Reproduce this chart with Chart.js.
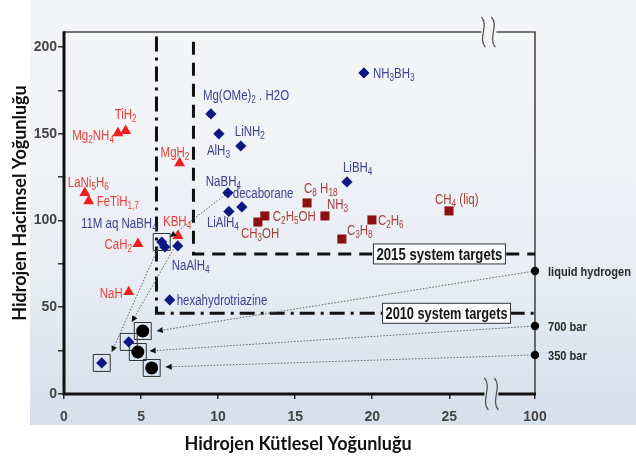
<!DOCTYPE html>
<html><head><meta charset="utf-8">
<script src="https://cdn.jsdelivr.net/npm/chart.js@4.4.1/dist/chart.umd.min.js"></script>
<style>
html,body{margin:0;padding:0;background:#fff;}
#wrap{position:relative;width:636px;height:458px;overflow:hidden;background:#fff;}
#bg{position:absolute;left:30px;top:0;width:606px;height:425px;
 background:linear-gradient(180deg,#f4f5f7 0%,#f1f3f6 35%,#e9eef4 62%,#dde6f0 82%,#d5e0ec 100%);}
#c{position:absolute;left:0;top:0;}
</style></head><body>
<div id="wrap"><div id="bg"></div><canvas id="c" width="636" height="458"></canvas></div>
<script>
// ---------------- data ----------------
const xTickValues = [0, 5, 10, 15, 20, 25, 100];   // broken axis: 25 ... 100
const yMax = 208.6;

// metal hydrides (red triangles)
const hydrideNames = ['Mg{2}NH{4}', 'TiH{2}', 'MgH{2}', 'LaNi{5}H{6}', 'FeTiH{1,7}', 'KBH{4}', 'CaH{2}', 'NaH'];
const hydrideWt    = [3.5, 4.0, 7.5, 1.35, 1.6, 7.4, 4.8, 4.2];
const hydrideVol   = [150.4, 151.6, 133.1, 115.9, 111.2, 91.1, 86.5, 58.8];

// complex / chemical hydrides (blue diamonds)
const complexNames = ['Mg(OMe){2} . H2O', 'AlH{3}', 'LiNH{2}', 'NaBH{4}|decaborane', 'LiAlH{4}', '', '11M aq NaBH{4}', '', 'NaAlH{4}', 'hexahydrotriazine', '', '', 'NH{3}BH{3}', 'LiBH{4}'];
const complexWt    = [9.53, 10.05, 11.47, 10.63, 10.7, 11.54, 6.34, 6.54, 7.38, 6.86, 2.45, 4.2, 19.46, 18.36];
const complexVol   = [161.4, 149.9, 142.9, 115.9, 105.2, 107.8, 87.6, 84.7, 85.3, 54.2, 17.9, 30.0, 185.0, 122.2];

// liquid fuels (dark red squares)
const liquidNames = ['C{8} H{18}', 'CH{3}OH', 'C{2}H{5}OH', 'NH{3}', 'C{2}H{6}', 'C{3}H{8}', 'CH{4} (liq)'];
const liquidWt    = [15.77, 12.58, 13.03, 16.93, 19.98, 18.03, 24.98];
const liquidVol   = [110.1, 99.1, 102.6, 102.6, 100.3, 89.3, 105.5];

// physical storage systems (black circles, boxed)
const systemWt  = [5.11, 4.79, 5.69];
const systemVol = [36.3, 24.2, 15.0];

// pure hydrogen references at 100 wt%
const tankNames = ['liquid hydrogen', '700 bar', '350 bar'];
const tankWt    = [100, 100, 100];
const tankVol   = [70.9, 39.2, 22.5];

// boxed points
const boxWt  = [5.11, 4.79, 5.69, 2.45, 4.2, 6.34];
const boxVol = [36.3, 24.2, 15.0, 17.9, 30.0, 87.6];

// arrows (from -> to)
const arrowFromWt  = [10.63, 6.2, 7.2, 100, 100, 100];
const arrowFromVol = [115.9, 86.0, 85.0, 70.9, 39.2, 22.5];
const arrowToWt    = [6.88, 3.1, 4.4, 6.02, 5.56, 6.6];
const arrowToVol   = [90.5, 24.2, 41.5, 36.3, 24.8, 15.6];

// DOE system targets
const targetNames = ['2015 system targets', '2010 system targets'];
const targetWt    = [8.4, 6.0];
const targetVol   = [80.7, 46.5];

// ---------------- layout / style ----------------
const AXIS_END = 30.56;           // plotted position of the "100" tick
const BREAK_AT = 27.6;
const xPos = v => (v >= 100 ? AXIS_END : v);

function hasFont(name){
  const c = document.createElement('canvas').getContext('2d');
  c.font = '20px monospace'; const a = c.measureText('abcdefghijklmnopqrstuvwxyz').width;
  c.font = '20px "' + name + '", monospace'; return Math.abs(c.measureText('abcdefghijklmnopqrstuvwxyz').width - a) > 0.5;
}
const NARROW = hasFont('Liberation Sans Narrow');
const FAM = NARROW ? '"Liberation Sans Narrow"' : '"Liberation Sans", Arial, sans-serif';
const SX = NARROW ? 1 : 0.82;
const TICK_FAM = "'Liberation Sans Narrow', 'Arial Narrow', 'Liberation Sans', sans-serif";

const RED = '#f01e1e', RED_T = '#e8413c';
const BLUE = '#0c1784', BLUE_T = '#3d4390';
const MAROON = '#8c1010', MAROON_T = '#a3403e';

// label offsets (pixels) relative to their point
const labelLayout = {
  'Mg{2}NH{4}': [-4, 3, 'right'], 'TiH{2}': [-11, -16, 'left'], 'MgH{2}': [-19, -10, 'left'],
  'LaNi{5}H{6}': [-17, -10, 'left'], 'FeTiH{1,7}': [8, 1, 'left'], 'KBH{4}': [-15, -14, 'left'],
  'CaH{2}': [-6, 1, 'right'], 'NaH': [-6, 2, 'right'],
  'Mg(OMe){2} . H2O': [-8, -18, 'left'], 'AlH{3}': [-12, 17, 'left'], 'LiNH{2}': [-6, -14, 'left'],
  'NaBH{4}': [-22, -11, 'left'], 'decaborane': [5, 1, 'left'], 'LiAlH{4}': [-22, 12, 'left'],
  '11M aq NaBH{4}': [-5, -18, 'right'], 'NaAlH{4}': [-6, 20, 'left'], 'hexahydrotriazine': [7, 1, 'left'],
  'NH{3}BH{3}': [9, 1, 'left'], 'LiBH{4}': [-4, -14, 'left'],
  'C{8} H{18}': [-3, -14, 'left'], 'CH{3}OH': [-17, 12, 'left'], 'C{2}H{5}OH': [8, 1, 'left'],
  'NH{3}': [2, -11, 'left'], 'C{2}H{6}': [6, 1, 'left'], 'C{3}H{8}': [5, -8, 'left'], 'CH{4} (liq)': [-14, -11, 'left']
};

function pts(xs, ys){ return xs.map((x, i) => ({x: xPos(x), y: ys[i]})); }

function drawRich(ctx, str, x, y, size, color, align, bold){
  const parts = []; const re = /\{([^}]*)\}|([^{]+)/g; let m;
  while ((m = re.exec(str))) parts.push(m[1] !== undefined ? {t: m[1], sub: true} : {t: m[2], sub: false});
  const w0 = bold ? 'bold ' : '';
  const mainF = w0 + size + 'px ' + FAM, subF = w0 + Math.round(size * 0.68) + 'px ' + FAM;
  let w = 0;
  parts.forEach(p => { ctx.font = p.sub ? subF : mainF; p.w = ctx.measureText(p.t).width * SX; w += p.w; });
  let cx = align === 'right' ? x - w : align === 'center' ? x - w / 2 : x;
  ctx.fillStyle = color; ctx.textBaseline = 'middle'; ctx.textAlign = 'left';
  parts.forEach(p => {
    ctx.font = p.sub ? subF : mainF;
    ctx.save(); ctx.translate(cx, y + (p.sub ? size * 0.3 : 0)); ctx.scale(SX, 1); ctx.fillText(p.t, 0, 0); ctx.restore();
    cx += p.w;
  });
  return w;
}

function squiggle(ctx, x, y, h){
  ctx.beginPath();
  ctx.moveTo(x - 2, y - h);
  ctx.bezierCurveTo(x + 6, y - h * 0.45, x - 6, y + h * 0.45, x + 2, y + h);
  ctx.stroke();
}

const decor = {
  id: 'decor',
  beforeDatasetsDraw(chart){
    const c = chart.ctx, a = chart.chartArea;
    const bx = chart.scales.x.getPixelForValue(BREAK_AT);
    c.save();
    c.lineCap = 'butt';
    c.strokeStyle = '#4a4a4a'; c.lineWidth = 1.6;
    c.beginPath(); c.moveTo(a.left, a.top); c.lineTo(bx - 8, a.top); c.moveTo(bx + 7, a.top); c.lineTo(a.right, a.top); c.lineTo(a.right, a.bottom); c.stroke();
    c.strokeStyle = '#111'; c.lineWidth = 3;
    c.beginPath(); c.moveTo(a.left, a.top - 0.8); c.lineTo(a.left, a.bottom); c.lineTo(bx - 5, a.bottom); c.moveTo(bx + 9, a.bottom); c.lineTo(a.right + 1, a.bottom); c.stroke();
    c.strokeStyle = '#555'; c.lineWidth = 1.3;
    squiggle(c, bx - 6, a.top, 15); squiggle(c, bx + 4, a.top, 15);
    squiggle(c, bx - 3, a.bottom, 16); squiggle(c, bx + 7, a.bottom, 16);
    c.restore();
  },
  afterDatasetsDraw(chart){
    const c = chart.ctx, sx = chart.scales.x, sy = chart.scales.y;
    const P = (x, y) => [sx.getPixelForValue(xPos(x)), sy.getPixelForValue(y)];
    c.save();
    c.fillStyle = '#111';
    arrowToWt.forEach((tx, i) => {
      const [x1, y1] = P(arrowFromWt[i], arrowFromVol[i]);
      const [x2, y2] = P(tx, arrowToVol[i]);
      const ang = Math.atan2(y2 - y1, x2 - x1);
      c.save(); c.translate(x2, y2); c.rotate(ang);
      c.beginPath(); c.moveTo(0, 0); c.lineTo(-6, -3); c.lineTo(-6, 3); c.closePath(); c.fill();
      c.restore();
    });
    const boxW = [133, 129];
    targetNames.forEach((n, i) => {
      const cxp = sx.getPixelForValue([24.36, 24.82][i]);
      const cyp = sy.getPixelForValue(targetVol[i]);
      c.fillStyle = 'rgba(250,251,253,0.96)';
      c.fillRect(cxp - boxW[i] / 2, cyp - 10.5, boxW[i], 21);
      c.strokeStyle = '#333'; c.lineWidth = 1;
      c.strokeRect(cxp - boxW[i] / 2 + 0.5, cyp - 10.5 + 0.5, boxW[i] - 1, 20);
      c.font = 'bold 17px ' + FAM;
      const mw = c.measureText(n).width;
      const s = (boxW[i] - 7) / mw;
      c.save(); c.translate(cxp, cyp + 1); c.scale(s, 1);
      c.fillStyle = '#151515'; c.textAlign = 'center'; c.textBaseline = 'middle';
      c.fillText(n, 0, 0); c.restore();
    });
    const lab = (names, wts, vols, color) => {
      names.forEach((nm, i) => {
        if (!nm) return;
        nm.split('|').forEach(part => {
          const L = labelLayout[part]; if (!L) return;
          const [x, y] = P(wts[i], vols[i]);
          drawRich(c, part, x + L[0], y + L[1], 14, color, L[2], false);
        });
      });
    };
    lab(hydrideNames, hydrideWt, hydrideVol, RED_T);
    lab(complexNames, complexWt, complexVol, BLUE_T);
    lab(liquidNames, liquidWt, liquidVol, MAROON_T);
    tankNames.forEach((n, i) => {
      const [x, y] = P(tankWt[i], tankVol[i]);
      drawRich(c, n, x + 13, y + 1, 13.5, '#2a2a2a', 'left', true);
    });
    c.fillStyle = '#111'; c.font = 'bold 18px Lato, "Open Sans", sans-serif';
    c.textAlign = 'center'; c.textBaseline = 'middle';
    c.fillText('Hidrojen Kütlesel Yoğunluğu', 298, 444);
    c.save(); c.translate(20, 203); c.rotate(-Math.PI / 2);
    c.fillText('Hidrojen Hacimsel Yoğunluğu', 0, 0); c.restore();
    c.restore();
  }
};

// ---------------- datasets ----------------
const datasets = [];
datasets.push({label: 'Metal hydrides', data: pts(hydrideWt, hydrideVol), pointStyle: 'triangle', pointRadius: 6.3,
  backgroundColor: RED, borderColor: RED, borderWidth: 0, order: 1, clip: false});
datasets.push({label: 'Chemical hydrides', data: pts(complexWt, complexVol), pointStyle: 'rectRot', pointRadius: 5.6,
  backgroundColor: BLUE, borderColor: BLUE, borderWidth: 0, order: 1, clip: false});
datasets.push({label: 'Liquids', data: pts(liquidWt, liquidVol), pointStyle: 'rect', pointRadius: 6.4,
  backgroundColor: MAROON, borderColor: MAROON, borderWidth: 0, order: 1, clip: false});
datasets.push({label: 'Systems', data: pts(systemWt, systemVol), pointStyle: 'circle', pointRadius: 6.5,
  backgroundColor: '#000', borderColor: '#000', borderWidth: 0, order: 1, clip: false});
datasets.push({label: 'Pure H2', data: pts(tankWt, tankVol), pointStyle: 'circle', pointRadius: 4.2,
  backgroundColor: '#000', borderColor: '#000', borderWidth: 0, order: 1, clip: false});
datasets.push({label: 'Boxes', data: pts(boxWt, boxVol), pointStyle: 'rect', pointRadius: 12,
  backgroundColor: 'rgba(0,0,0,0)', borderColor: '#333', borderWidth: 1, order: 2, clip: false});
arrowToWt.forEach((tx, i) => {
  datasets.push({label: 'arrow' + i, data: pts([arrowFromWt[i], tx], [arrowFromVol[i], arrowToVol[i]]), showLine: true,
    borderColor: '#666', borderWidth: 1, borderDash: [1.6, 1.6], pointRadius: 0, order: 8, clip: false});
});
datasets.push({label: targetNames[0], data: pts([targetWt[0], targetWt[0], 100], [203, targetVol[0], targetVol[0]]), showLine: true,
  borderColor: '#111', borderWidth: 3, borderDash: [13, 8], pointRadius: 0, order: 9, clip: false, tension: 0});
datasets.push({label: targetNames[1], data: pts([targetWt[1], targetWt[1], 100], [206, targetVol[1], targetVol[1]]), showLine: true,
  borderColor: '#111', borderWidth: 3, borderDash: [15, 6, 3, 6], pointRadius: 0, order: 9, clip: false, tension: 0});

const tickFont = {family: TICK_FAM, size: 14, weight: 'bold'};

new Chart(document.getElementById('c'), {
  type: 'scatter',
  data: {datasets},
  options: {
    responsive: false, animation: false, devicePixelRatio: 1,
    layout: {padding: {left: 0, top: 32, right: 101, bottom: 0}},
    plugins: {legend: {display: false}, tooltip: {enabled: false}},
    scales: {
      x: {
        type: 'linear', min: 0, max: AXIS_END,
        afterBuildTicks: s => { s.ticks = xTickValues.map(v => ({value: xPos(v)})); },
        ticks: {autoSkip: false, maxRotation: 0, color: '#444', font: tickFont, padding: 10,
          callback: (v, i) => String(xTickValues[i])},
        grid: {drawOnChartArea: false, drawTicks: true, tickLength: 5, color: '#333', lineWidth: 1.5},
        border: {display: false},
        afterFit: s => { s.height = 64; }
      },
      y: {
        type: 'linear', min: 0, max: yMax,
        ticks: {stepSize: 25, includeBounds: false, autoSkip: false, color: '#444', font: tickFont, padding: 1,
          callback: v => (v % 50 === 0 ? String(v) : '')},
        grid: {drawOnChartArea: false, drawTicks: true, tickLength: 6, color: '#333', lineWidth: 1.5},
        border: {display: false},
        afterFit: s => { s.width = 64; }
      }
    }
  },
  plugins: [decor]
});
</script>
</body></html>
